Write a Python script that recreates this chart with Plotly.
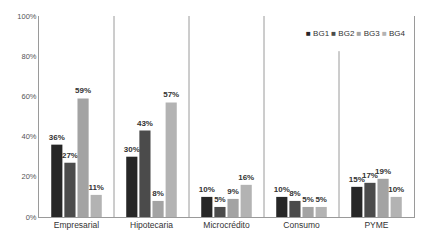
import plotly.graph_objects as go

categories = ["Empresarial", "Hipotecaria", "Microcrédito", "Consumo", "PYME"]
series_names = ["BG1", "BG2", "BG3", "BG4"]
bg1 = [36, 30, 10, 10, 15]
bg2 = [27, 43, 5, 8, 17]
bg3 = [59, 8, 9, 5, 19]
bg4 = [11, 57, 16, 5, 10]
series_values = [bg1, bg2, bg3, bg4]
colors = ["#262626", "#4b4b4b", "#a3a3a3", "#b3b3b3"]
y_ticks = [0, 20, 40, 60, 80, 100]

fig = go.Figure()
for name, vals, col in zip(series_names, series_values, colors):
    fig.add_trace(go.Bar(
        x=categories, y=[v / 100 for v in vals], name=name,
        marker=dict(color=col, line=dict(width=0)),
        text=[f"{v}%" for v in vals], textposition="outside",
        textfont=dict(family="Liberation Sans, Arial", size=8, color="#333333"),
        texttemplate="<b>%{text}</b>", cliponaxis=False,
        showlegend=False,
    ))

# category separators
shapes = []
for i in range(len(categories) - 1):
    top = 0.825 if i == 3 else 1.0
    shapes.append(dict(type="line", xref="x", yref="y", x0=i + 0.5, x1=i + 0.5,
                       y0=0, y1=top, line=dict(color="#9a9a9a", width=1), layer="below"))

legend_text = "&nbsp;".join(
    f"<span style='color:{c}'>■</span> {n}" for n, c in zip(series_names, colors))

fig.update_layout(
    width=435, height=242,
    margin=dict(l=39, r=21, t=12, b=21, pad=0),
    paper_bgcolor="white", plot_bgcolor="white",
    barmode="group", bargap=0.3, bargroupgap=0.15,
    uniformtext=dict(minsize=8, mode="show"),
    shapes=shapes,
    annotations=[dict(text=legend_text, xref="paper", yref="paper", x=0.985, y=0.915,
                      xanchor="right", yanchor="middle", showarrow=False, bgcolor="white",
                      font=dict(family="Liberation Sans, Arial", size=8, color="#333333"))],
    font=dict(family="Liberation Sans, Arial", size=8, color="#404040"),
)
fig.update_xaxes(showline=True, linecolor="#9a9a9a", linewidth=1, showgrid=False,
                 ticks="", tickfont=dict(size=8.5, color="#333333"))
fig.update_yaxes(range=[0, 1], tickvals=[t / 100 for t in y_ticks],
                 ticktext=[f"{t}%" for t in y_ticks], showgrid=False, zeroline=False,
                 showline=True, mirror=True, linecolor="#9a9a9a", linewidth=1,
                 ticks="", tickfont=dict(size=7.5, color="#555555"))

fig.write_html("out.html")
